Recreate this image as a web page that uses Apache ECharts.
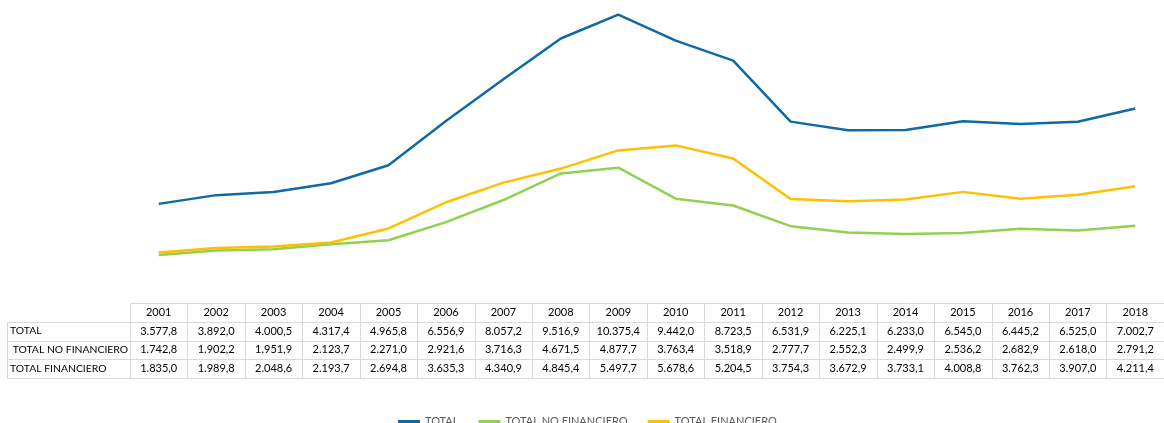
<!DOCTYPE html>
<html>
<head>
<meta charset="utf-8">
<script src="https://cdn.jsdelivr.net/npm/echarts@6/dist/echarts.min.js"></script>
<style>
  html, body { margin: 0; padding: 0; background: #fff; }
  #chart { width: 1164px; height: 423px; }
</style>
</head>
<body>
<div id="chart"></div>
<script>
const years = ['2001','2002','2003','2004','2005','2006','2007','2008','2009','2010','2011','2012','2013','2014','2015','2016','2017','2018'];
const total = [3577.8, 3892.0, 4000.5, 4317.4, 4965.8, 6556.9, 8057.2, 9516.9, 10375.4, 9442.0, 8723.5, 6531.9, 6225.1, 6233.0, 6545.0, 6445.2, 6525.0, 7002.7];
const totalNoFin = [1742.8, 1902.2, 1951.9, 2123.7, 2271.0, 2921.6, 3716.3, 4671.5, 4877.7, 3763.4, 3518.9, 2777.7, 2552.3, 2499.9, 2536.2, 2682.9, 2618.0, 2791.2];
const totalFin = [1835.0, 1989.8, 2048.6, 2193.7, 2694.8, 3635.3, 4340.9, 4845.4, 5497.7, 5678.6, 5204.5, 3754.3, 3672.9, 3733.1, 4008.8, 3762.3, 3907.0, 4211.4];
const names = ['TOTAL', 'TOTAL NO FINANCIERO', 'TOTAL FINANCIERO'];
const rowLabels = ['TOTAL', ' TOTAL NO FINANCIERO', 'TOTAL FINANCIERO'];
const colors = ['#0f6aa4', '#92d050', '#ffc000'];

const font = 'Lato, "Liberation Sans", sans-serif';

// 10375.4 -> 10.375,4
function fmt(v) {
  const parts = v.toFixed(1).split('.');
  return parts[0].replace(/\B(?=(\d{3})+(?!\d))/g, '.') + ',' + parts[1];
}

const chart = echarts.init(document.getElementById('chart'));

const option = {
  animation: false,
  color: colors,
  grid: { left: 130, width: 1040, top: 0, height: 303.5 },
  legend: {
    data: names,
    left: 398,
    top: 416,
    padding: 0,
    icon: 'rect',
    itemWidth: 22,
    itemHeight: 3,
    itemGap: 20,
    textStyle: { fontFamily: font, fontSize: 11, color: '#595959' }
  },
  xAxis: {
    type: 'category',
    data: years,
    boundaryGap: true,
    axisLine: { show: false },
    axisTick: { show: false },
    axisLabel: { margin: 3, fontFamily: font, fontSize: 11, color: '#000' }
  },
  yAxis: {
    type: 'value',
    min: 0,
    max: 10900,
    show: false,
    splitLine: { show: false }
  },
  series: [
    { name: names[0], type: 'line', data: total, symbol: 'none', lineStyle: { width: 2.5 } },
    { name: names[1], type: 'line', data: totalNoFin, symbol: 'none', lineStyle: { width: 2.5 } },
    { name: names[2], type: 'line', data: totalFin, symbol: 'none', lineStyle: { width: 2.5 } }
  ]
};

chart.setOption(option);

// data table under the chart
const rows = [total, totalNoFin, totalFin];
const rowTops = [303, 321.5, 340.5, 359, 378];
const border = '#d9d9d9';
const graphic = [];
const half = 1040 / years.length / 2;

function hline(x1, x2, y) {
  graphic.push({ type: 'line', shape: { x1: x1, y1: y, x2: x2, y2: y }, style: { stroke: border, lineWidth: 1 }, silent: true });
}
function vline(x, y1, y2) {
  graphic.push({ type: 'line', shape: { x1: x, y1: y1, x2: x, y2: y2 }, style: { stroke: border, lineWidth: 1 }, silent: true });
}

hline(130, 1170, Math.round(rowTops[0]) + 0.5);
for (let r = 1; r < rowTops.length; r++) hline(7, 1170, Math.round(rowTops[r]) + 0.5);
vline(7.5, Math.round(rowTops[1]) + 0.5, Math.round(rowTops[4]) + 0.5);

years.forEach(function (y, i) {
  const cx = chart.convertToPixel({ xAxisIndex: 0 }, i);
  vline(Math.round(cx - half) + 0.5, Math.round(rowTops[0]) + 0.5, Math.round(rowTops[4]) + 0.5);
  rows.forEach(function (vals, r) {
    graphic.push({
      type: 'text',
      x: cx,
      y: (rowTops[r + 1] + rowTops[r + 2]) / 2,
      style: { text: fmt(vals[i]), font: '11px ' + font, fill: '#000', align: 'center', verticalAlign: 'middle' },
      silent: true
    });
  });
});

rowLabels.forEach(function (lab, r) {
  graphic.push({
    type: 'text',
    x: 10,
    y: (rowTops[r + 1] + rowTops[r + 2]) / 2,
    style: { text: lab, font: '10.4px ' + font, fill: '#000', align: 'left', verticalAlign: 'middle' },
    silent: true
  });
});

chart.setOption({ graphic: graphic });
</script>
</body>
</html>
